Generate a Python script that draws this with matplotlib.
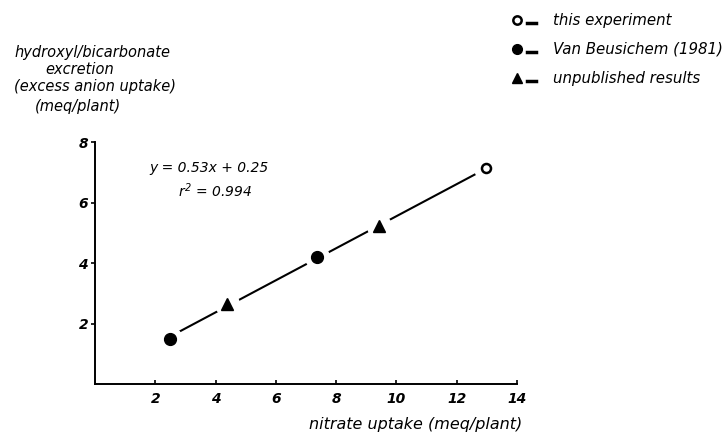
import numpy as np
import matplotlib.pyplot as plt
from matplotlib.lines import Line2D

# Data
nitrate_open = [12.98]
anion_open = [7.13]
nitrate_vb = [2.48, 7.38]
anion_vb = [1.49, 4.19]
nitrate_unpub = [4.37, 9.44]
anion_unpub = [2.64, 5.21]
slope, intercept = 0.53, 0.25
xticks = [2, 4, 6, 8, 10, 12, 14]
yticks = [2, 4, 6, 8]

plt.rcParams['font.family'] = ['DejaVu Sans']
plt.rcParams['font.style'] = 'italic'

fig = plt.figure(figsize=(7.25, 4.32), dpi=100)
ax = fig.add_axes([0.131, 0.111, 0.582, 0.560])

# regression line between the extreme points
x_all = np.array(nitrate_vb + nitrate_unpub + nitrate_open)
xl = np.array([x_all.min(), x_all.max()])
ax.plot(xl, slope * xl + intercept, color='black', lw=1.5, zorder=1)

# white halos to break the line around each marker
ax.plot(x_all, np.array(anion_vb + anion_unpub + anion_open), ls='none', marker='o',
        ms=17, mfc='white', mec='white', zorder=2)

ax.plot(nitrate_vb, anion_vb, ls='none', marker='o', ms=8.5, color='black', zorder=3)
ax.plot(nitrate_unpub, anion_unpub, ls='none', marker='^', ms=9, color='black', zorder=3)
ax.plot(nitrate_open, anion_open, ls='none', marker='o', ms=6.5, mfc='white',
        mec='black', mew=1.8, zorder=3)

ax.set_xlim(0, 14)
ax.set_ylim(0, 8)
ax.set_xticks(xticks)
ax.set_yticks(yticks)
ax.spines['top'].set_visible(False)
ax.spines['right'].set_visible(False)
for s in ('left', 'bottom'):
    ax.spines[s].set_linewidth(1.4)
ax.tick_params(axis='x', direction='in', length=3, width=1.2, labelsize=10, pad=6)
ax.tick_params(axis='y', direction='out', length=3, width=1.2, labelsize=10, pad=2)
for lab in ax.get_xticklabels() + ax.get_yticklabels():
    lab.set_fontweight('bold')
    lab.set_style('italic')

ax.text(1.82, 7.13, 'y = 0.53x + 0.25', fontsize=10, va='center', ha='left')
ax.text(2.75, 6.40, '$r^2$ = 0.994', fontsize=10, va='center', ha='left',
        math_fontfamily='dejavusans')

# y-axis title (top left)
ylines = ['hydroxyl/bicarbonate', 'excretion', '(excess anion uptake)', '(meq/plant)']
ypos = [52, 69, 86, 107]
xpos = [92, 80, 95, 78]
for t, yp, xp in zip(ylines, ypos, xpos):
    fig.text(xp / 725, 1 - yp / 432, t, fontsize=10.5, ha='center', va='center')

fig.text(522 / 725, 1 - 425 / 432, 'nitrate uptake (meq/plant)', fontsize=11.5,
         ha='right', va='center')

# legend
leg = [('o', 'white', 'this experiment'),
       ('o', 'black', 'Van Beusichem (1981)'),
       ('^', 'black', 'unpublished results')]
for i, (m, fc, lab) in enumerate(leg):
    yy = 1 - (20 + 29 * i) / 432
    fig.add_artist(Line2D([517 / 725], [yy], marker=m, ms=7 if fc == 'black' else 6,
                          mfc=fc, mec='black', mew=1.8 if fc == 'white' else 1,
                          ls='none', transform=fig.transFigure))
    fig.add_artist(Line2D([527 / 725, 536 / 725], [yy - 0.006, yy - 0.006], color='black',
                          lw=2.5, transform=fig.transFigure))
    fig.text(553 / 725, yy, lab, fontsize=10.8, ha='left', va='center')

fig.savefig('out.png', dpi=100)
